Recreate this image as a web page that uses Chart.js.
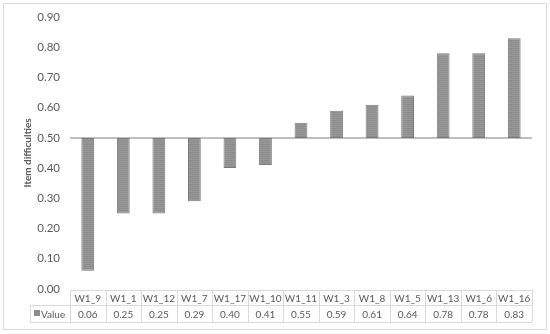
<!DOCTYPE html>
<html>
<head>
<meta charset="utf-8">
<script src="https://cdn.jsdelivr.net/npm/chart.js@4"></script>
<style>
  html, body { margin: 0; padding: 0; background: #fff; }
  #wrap { width: 550px; height: 334px; }
</style>
</head>
<body>
<div id="wrap"><canvas id="chart" width="550" height="334"></canvas></div>
<script>
const items = ["W1_9", "W1_1", "W1_12", "W1_7", "W1_17", "W1_10", "W1_11", "W1_3", "W1_8", "W1_5", "W1_13", "W1_6", "W1_16"];
const values = [0.06, 0.25, 0.25, 0.29, 0.40, 0.41, 0.55, 0.59, 0.61, 0.64, 0.78, 0.78, 0.83];
const baseline = 0.5;
const yTicks = [0, 0.1, 0.2, 0.3, 0.4, 0.5, 0.6, 0.7, 0.8, 0.9];

const textColor = "#595959";
const lineColor = "#d9d9d9";
const fontFamily = "Lato, 'Open Sans', sans-serif";

// striped gray fill like the original bars
function stripes() {
  const c = document.createElement("canvas");
  c.width = 4; c.height = 2;
  const g = c.getContext("2d");
  g.fillStyle = "#8d8d8d"; g.fillRect(0, 0, 4, 1);
  g.fillStyle = "#979797"; g.fillRect(0, 1, 4, 1);
  return g.createPattern(c, "repeat");
}

// data table under the plot + outer frame
const dataTable = {
  id: "dataTable",
  afterDraw(chart) {
    const ctx = chart.ctx;
    const x = chart.scales.x;
    const area = chart.chartArea;
    const top = 290, mid = 305, bottom = 322, keyLeft = 30;
    const step = (area.right - area.left) / items.length;

    ctx.save();
    ctx.strokeStyle = lineColor;
    ctx.lineWidth = 1;
    ctx.beginPath();
    ctx.moveTo(area.left, top + 0.5); ctx.lineTo(area.right, top + 0.5);
    ctx.moveTo(keyLeft, mid + 0.5); ctx.lineTo(area.right, mid + 0.5);
    ctx.moveTo(keyLeft, bottom + 0.5); ctx.lineTo(area.right, bottom + 0.5);
    ctx.moveTo(keyLeft + 0.5, mid); ctx.lineTo(keyLeft + 0.5, bottom);
    for (let i = 0; i <= items.length; i++) {
      const lx = Math.round(area.left + i * step) + 0.5;
      ctx.moveTo(lx, top); ctx.lineTo(lx, bottom);
    }
    ctx.stroke();

    // outer frame
    ctx.strokeRect(3.5, 3.5, 543, 326);

    ctx.fillStyle = textColor;
    ctx.font = "10px " + fontFamily;
    ctx.textAlign = "center";
    ctx.textBaseline = "middle";
    items.forEach((name, i) => {
      const cx = x.getPixelForValue(i);
      ctx.fillText(name, cx, (top + mid) / 2 + 1);
      ctx.fillText(values[i].toFixed(2), cx, (mid + bottom) / 2 + 1);
    });

    // legend key + row label
    ctx.fillStyle = "#8c8c8c";
    ctx.fillRect(34, 310, 6, 6);
    ctx.fillStyle = textColor;
    ctx.textAlign = "left";
    ctx.fillText("Value", 41, (mid + bottom) / 2 + 1);
    ctx.restore();
  }
};

new Chart(document.getElementById("chart"), {
  type: "bar",
  data: {
    labels: items,
    datasets: [{
      label: "Value",
      data: values.map(v => [baseline, v]),
      backgroundColor: stripes(),
      borderColor: "#7a7a7a",
      borderWidth: 1,
      borderSkipped: false,
      categoryPercentage: 1,
      barPercentage: 0.36
    }]
  },
  options: {
    responsive: false,
    animation: false,
    layout: { padding: { top: 17, right: 18, bottom: 45, left: 22 } },
    plugins: {
      legend: { display: false },
      tooltip: { enabled: false }
    },
    scales: {
      x: {
        display: false
      },
      y: {
        min: 0,
        max: 0.9,
        afterBuildTicks: axis => { axis.ticks = yTicks.map(v => ({ value: v })); },
        afterFit: axis => { axis.width = 48; },
        border: { display: false },
        grid: {
          drawTicks: false,
          color: c => Math.abs(c.tick.value - baseline) < 1e-6 ? "#bfbfbf" : "transparent",
          lineWidth: c => Math.abs(c.tick.value - baseline) < 1e-6 ? 2 : 0
        },
        ticks: {
          padding: 10,
          color: textColor,
          font: { family: fontFamily, size: 11.5 },
          callback: v => Number(v).toFixed(2)
        },
        title: {
          display: true,
          text: "Item difficulties",
          color: textColor,
          font: { family: fontFamily, size: 10, weight: "bold" },
          padding: 0
        }
      }
    }
  },
  plugins: [dataTable]
});
</script>
</body>
</html>
